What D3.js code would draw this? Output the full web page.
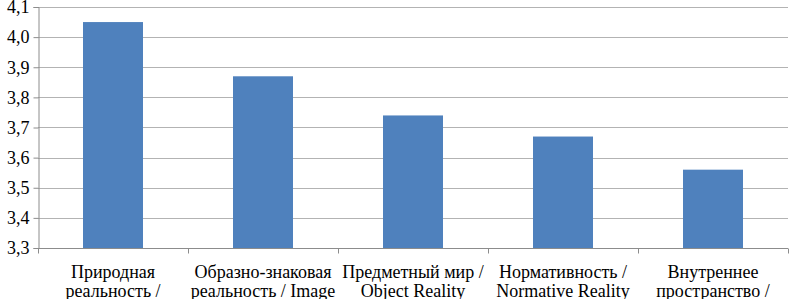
<!DOCTYPE html>
<html><head><meta charset="utf-8">
<script src="https://cdn.jsdelivr.net/npm/d3@7/dist/d3.min.js"></script>
<style>body{margin:0;background:#fff}svg{display:block}</style>
</head><body>
<svg id="c" width="790" height="299" font-family="Liberation Serif"></svg>
<script>
const categories = [
  ["Природная", "реальность /"],
  ["Образно-знаковая", "реальность / Image"],
  ["Предметный мир /", "Object Reality"],
  ["Нормативность /", "Normative Reality"],
  ["Внутреннее", "пространство /"]
];
const values = [4.05, 3.87, 3.74, 3.67, 3.56];
const yTicks = [3.3, 3.4, 3.5, 3.6, 3.7, 3.8, 3.9, 4.0, 4.1];

const svg = d3.select("#c");
const mLeft = 38, mRight = 788, mTop = 7, mBottom = 248;
const x = d3.scaleBand().domain(d3.range(values.length)).range([mLeft, mRight]).paddingInner(0.6).paddingOuter(0.3);
const xb = d3.scaleBand().domain(d3.range(values.length)).range([mLeft, mRight]);
const y = d3.scaleLinear().domain([3.3, 4.1]).range([mBottom, mTop]);
const fmt = v => d3.format(".1f")(v).replace(".", ",");
const FONT = "Liberation Serif";

// gridlines
svg.append("g").selectAll("line").data(yTicks.slice(1)).join("line")
  .attr("x1", mLeft).attr("x2", mRight)
  .attr("y1", d => Math.round(y(d)) + 0.5).attr("y2", d => Math.round(y(d)) + 0.5)
  .attr("stroke", "#b3b3b3").attr("stroke-width", 1);

// bars
svg.append("g").selectAll("rect").data(values).join("rect")
  .attr("x", (d, i) => x(i)).attr("width", x.bandwidth())
  .attr("y", d => y(d)).attr("height", d => y(3.3) - y(d))
  .attr("fill", "#4f81bd");

// y axis
const ya = d3.axisLeft(y).tickValues(yTicks).tickFormat(fmt).tickSize(5).tickPadding(4);
const gy = svg.append("g").attr("transform", `translate(${mLeft + 0.5},0)`).call(ya);
gy.attr("font-family", FONT).attr("font-size", 18);
gy.select(".domain").attr("stroke", "#8c8c8c");
gy.selectAll(".tick line").attr("stroke", "#8c8c8c");
gy.selectAll(".tick text").attr("font-family", FONT).attr("font-size", 18).attr("fill", "#000");

// x axis
const gx = svg.append("g").attr("transform", `translate(0,${mBottom + 0.5})`);
gx.append("line").attr("x1", mLeft).attr("x2", mRight).attr("stroke", "#8c8c8c");
const bounds = d3.range(values.length + 1).map(i => i < values.length ? xb(i) : mRight);
gx.selectAll("line.t").data(bounds).join("line").attr("class", "t")
  .attr("x1", d => Math.round(d) + 0.5).attr("x2", d => Math.round(d) + 0.5)
  .attr("y1", 0).attr("y2", 5).attr("stroke", "#8c8c8c");

const lbl = gx.selectAll("text").data(categories).join("text")
  .attr("text-anchor", "middle").attr("font-family", FONT).attr("font-size", 18).attr("fill", "#000");
lbl.each(function(d, i) {
  const t = d3.select(this);
  d.forEach((line, k) => {
    t.append("tspan").attr("x", xb(i) + xb.bandwidth() / 2).attr("y", 29 + k * 19).text(line);
  });
});
</script>
</body></html>
